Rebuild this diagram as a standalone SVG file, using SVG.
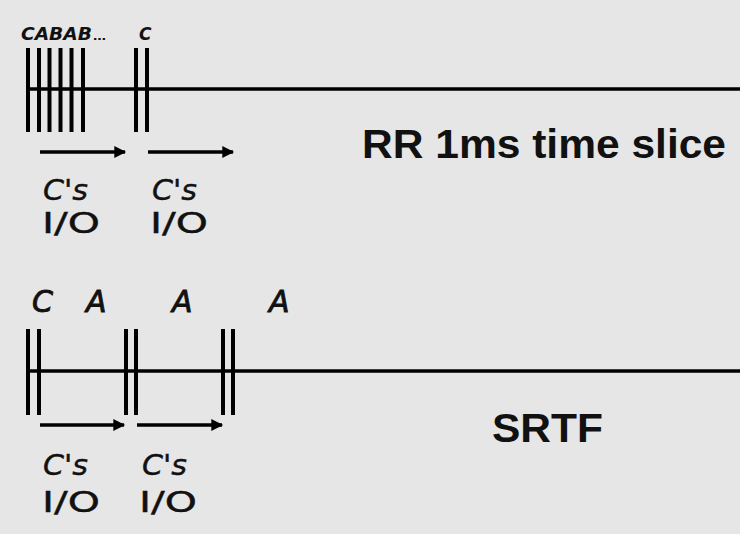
<svg xmlns="http://www.w3.org/2000/svg" width="740" height="534" viewBox="0 0 740 534">
<style>
.bg{fill:#e6e6e6}
.ln{stroke:#000;stroke-width:3.5;fill:none}
.bar{stroke:#000;stroke-width:4}
.arr{stroke:#000;stroke-width:3.5;marker-end:url(#ah)}
.t{font-family:"DejaVu Sans","Liberation Sans",sans-serif;fill:#111}
.it{font-style:italic}
.big{font-family:"Liberation Sans",Arial,sans-serif;font-size:40px;font-weight:bold}
.mid{font-size:29px;stroke:#111;stroke-width:0.4}
.lab{font-size:30px;font-style:italic;stroke:#111;stroke-width:0.9}
</style>
<defs>
<marker id="ah" viewBox="0 0 10 10" refX="9" refY="5" markerWidth="4.2" markerHeight="3.4" orient="auto" markerUnits="strokeWidth">
<path d="M0,0 L10,5 L0,10 Z" fill="#000"/>
</marker>
</defs>
<rect class="bg" width="740" height="534"/>
<g id="rr">
<line class="ln" x1="27" y1="89" x2="740" y2="89"/>
<g class="bar">
<line x1="28" y1="48" x2="28" y2="132"/>
<line x1="39" y1="48" x2="39" y2="132"/>
<line x1="49.5" y1="48" x2="49.5" y2="132"/>
<line x1="60.5" y1="48" x2="60.5" y2="132"/>
<line x1="71.5" y1="48" x2="71.5" y2="132"/>
<line x1="83" y1="48" x2="83" y2="132"/>
<line x1="136" y1="48" x2="136" y2="132"/>
<line x1="147" y1="48" x2="147" y2="132"/>
</g>
<text class="t it" x="21" y="40" font-size="17" font-weight="bold" textLength="71" lengthAdjust="spacingAndGlyphs">CABAB</text>
<text class="t" x="93" y="40" font-size="11" font-weight="bold" textLength="13" lengthAdjust="spacingAndGlyphs">…</text>
<text class="t it" x="139" y="40" font-size="17" font-weight="bold">C</text>
<text class="t big" x="362" y="158" textLength="364" lengthAdjust="spacingAndGlyphs">RR 1ms time slice</text>
</g>
<g id="rr-io">
<text class="t mid it" x="43" y="200" textLength="45" lengthAdjust="spacingAndGlyphs">C's</text>
<text class="t mid" x="42" y="233" textLength="58" lengthAdjust="spacingAndGlyphs">I/O</text>
<text class="t mid it" x="152" y="200" textLength="45" lengthAdjust="spacingAndGlyphs">C's</text>
<text class="t mid" x="150" y="233" textLength="58" lengthAdjust="spacingAndGlyphs">I/O</text>
</g>
<g id="srtf">
<line class="ln" x1="27" y1="371" x2="740" y2="371"/>
<g class="bar">
<line x1="28" y1="329" x2="28" y2="415"/>
<line x1="39" y1="329" x2="39" y2="415"/>
<line x1="126" y1="329" x2="126" y2="415"/>
<line x1="136" y1="329" x2="136" y2="415"/>
<line x1="223" y1="329" x2="223" y2="415"/>
<line x1="233" y1="329" x2="233" y2="415"/>
</g>
<text class="t lab" x="32" y="312">C</text>
<text class="t lab" x="86" y="312">A</text>
<text class="t lab" x="172" y="312">A</text>
<text class="t lab" x="269" y="312">A</text>
<text class="t big" x="492" y="442" textLength="111" lengthAdjust="spacingAndGlyphs">SRTF</text>
</g>
<g id="srtf-io">
<text class="t mid it" x="43" y="475" textLength="45" lengthAdjust="spacingAndGlyphs">C's</text>
<text class="t mid" x="42" y="512" textLength="58" lengthAdjust="spacingAndGlyphs">I/O</text>
<text class="t mid it" x="142" y="475" textLength="45" lengthAdjust="spacingAndGlyphs">C's</text>
<text class="t mid" x="139" y="512" textLength="58" lengthAdjust="spacingAndGlyphs">I/O</text>
</g>
<g id="connectors">
<line class="arr" x1="40" y1="152" x2="125" y2="152"/>
<line class="arr" x1="148" y1="152" x2="233" y2="152"/>
<line class="arr" x1="40" y1="425" x2="124" y2="425"/>
<line class="arr" x1="137" y1="425" x2="222" y2="425"/>
</g>
</svg>
